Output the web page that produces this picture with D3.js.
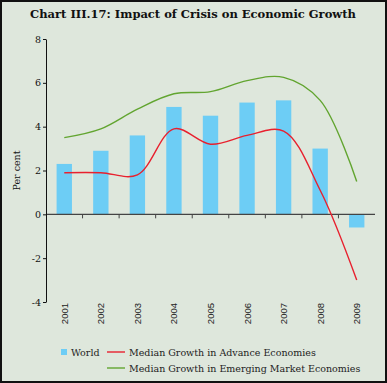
<!DOCTYPE html>
<html>
<head>
<meta charset="utf-8">
<script src="https://cdn.jsdelivr.net/npm/d3@7"></script>
<style>
  html, body { margin: 0; padding: 0; background: #fff; }
</style>
</head>
<body>
<div id="grafico"></div>
<script>
// Data
const years = ["2001", "2002", "2003", "2004", "2005", "2006", "2007", "2008", "2009"];
const world = [2.3, 2.9, 3.6, 4.9, 4.5, 5.1, 5.2, 3.0, -0.6];
const advance = [1.9, 1.9, 1.8, 3.9, 3.2, 3.6, 3.8, 1.1, -3.0];
const emerging = [3.5, 3.9, 4.8, 5.5, 5.6, 6.1, 6.25, 5.2, 1.5];
const yTicks = [8, 6, 4, 2, 0, -2, -4];

const width = 387;
const height = 383;
const marginLeft = 46;
const marginRight = 12;
const plotTop = 39;
const plotBottom = 302;

const svg = d3.select("#grafico")
  .append("svg")
  .attr("width", width)
  .attr("height", height)
  .style("display", "block");

// background and frame
svg.append("rect")
  .attr("x", 1).attr("y", 1)
  .attr("width", width - 2).attr("height", height - 2)
  .attr("fill", "#dee7dc")
  .attr("stroke", "#111")
  .attr("stroke-width", 2);

svg.append("text")
  .attr("x", 193)
  .attr("y", 18)
  .attr("text-anchor", "middle")
  .style("font", "bold 11.5px 'DejaVu Serif', serif")
  .attr("fill", "#111")
  .text("Chart III.17: Impact of Crisis on Economic Growth");

const x = d3.scaleBand()
  .domain(years)
  .range([marginLeft, width - marginRight])
  .paddingInner(0.58)
  .paddingOuter(0.29);

const xBand = d3.scaleBand()
  .domain(years)
  .range([marginLeft, width - marginRight]);

const y = d3.scaleLinear()
  .domain([-4, 8])
  .range([plotBottom, plotTop]);

// bars
svg.append("g")
  .attr("fill", "#6dcdf5")
  .selectAll("rect")
  .data(world)
  .join("rect")
  .attr("x", (d, i) => x(years[i]))
  .attr("width", x.bandwidth())
  .attr("y", (d) => y(Math.max(0, d)))
  .attr("height", (d) => Math.abs(y(d) - y(0)));

// zero axis
svg.append("line")
  .attr("x1", marginLeft).attr("x2", width - marginRight)
  .attr("y1", y(0)).attr("y2", y(0))
  .attr("stroke", "#444")
  .attr("stroke-width", 1.2);

svg.append("g")
  .attr("stroke", "#444")
  .selectAll("line")
  .data(years.slice(1))
  .join("line")
  .attr("x1", (d) => xBand(d)).attr("x2", (d) => xBand(d))
  .attr("y1", y(0)).attr("y2", y(0) + 4);

// y axis (plain hyphen for negatives, like the original)
const yAxis = svg.append("g")
  .attr("transform", `translate(${marginLeft},0)`)
  .call(d3.axisLeft(y).tickValues(yTicks).tickFormat((d) => String(d))
    .tickSize(3).tickSizeOuter(0).tickPadding(2));
yAxis.select(".domain").attr("stroke", "#111");
yAxis.selectAll(".tick line").attr("stroke", "#111");
yAxis.selectAll("text")
  .style("font", "9.5px 'DejaVu Serif', serif")
  .attr("fill", "#111");

svg.append("text")
  .attr("transform", `translate(20,${(plotTop + plotBottom) / 2}) rotate(-90)`)
  .attr("text-anchor", "middle")
  .style("font", "9.5px 'DejaVu Serif', serif")
  .attr("fill", "#111")
  .text("Per cent");

// x labels
svg.append("g")
  .selectAll("text")
  .data(years)
  .join("text")
  .attr("transform", (d) => `translate(${xBand(d) + xBand.bandwidth() / 2 + 3.5},${plotBottom + 1}) rotate(-90)`)
  .attr("text-anchor", "end")
  .style("font", "9.5px 'Liberation Sans', Arial, sans-serif")
  .attr("fill", "#222")
  .text((d) => d);

// lines
const line = d3.line()
  .x((d, i) => xBand(years[i]) + xBand.bandwidth() / 2)
  .y((d) => y(d))
  .curve(d3.curveCatmullRom.alpha(0.5));

svg.append("path")
  .datum(emerging)
  .attr("fill", "none")
  .attr("stroke", "#62a530")
  .attr("stroke-width", 1.4)
  .attr("d", line);

svg.append("path")
  .datum(advance)
  .attr("fill", "none")
  .attr("stroke", "#e8202e")
  .attr("stroke-width", 1.4)
  .attr("d", line);

// legend
const legend = svg.append("g")
  .style("font", "9.5px 'DejaVu Serif', serif")
  .attr("fill", "#222");

legend.append("rect")
  .attr("x", 61).attr("y", 349).attr("width", 6).attr("height", 6)
  .attr("fill", "#6dcdf5");
legend.append("text").attr("x", 71).attr("y", 356).text("World");

legend.append("line")
  .attr("x1", 107).attr("x2", 125).attr("y1", 352).attr("y2", 352)
  .attr("stroke", "#e8202e").attr("stroke-width", 1.4);
legend.append("text").attr("x", 129).attr("y", 356).text("Median Growth in Advance Economies");

legend.append("line")
  .attr("x1", 107).attr("x2", 125).attr("y1", 368).attr("y2", 368)
  .attr("stroke", "#62a530").attr("stroke-width", 1.4);
legend.append("text").attr("x", 129).attr("y", 372).text("Median Growth in Emerging Market Economies");
</script>
</body>
</html>
